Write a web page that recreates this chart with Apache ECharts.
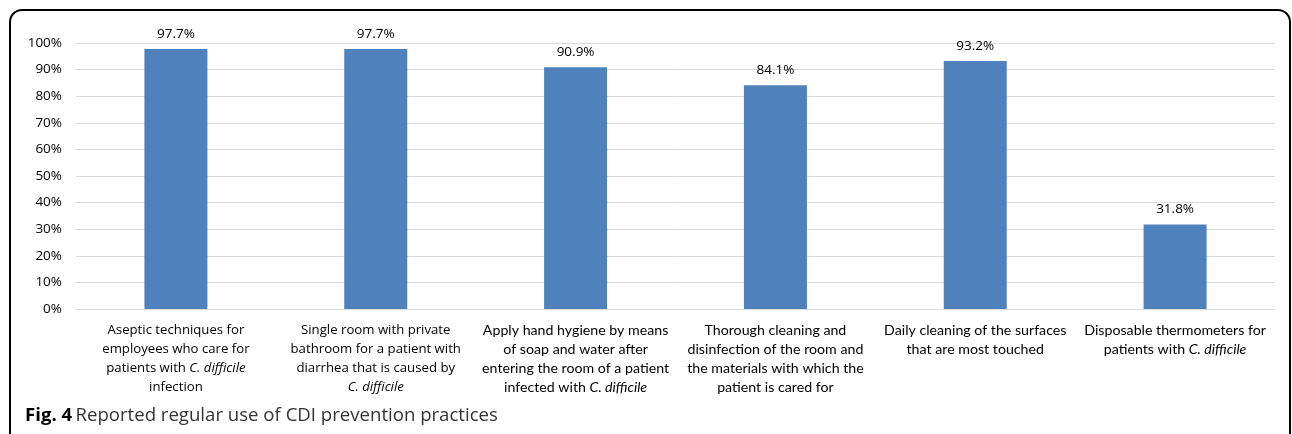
<!DOCTYPE html>
<html><head><meta charset="utf-8">
<script src="https://cdn.jsdelivr.net/npm/echarts@6/dist/echarts.min.js"></script>
<style>html,body{margin:0;padding:0;background:#fff}#c{width:1292px;height:434px}</style>
</head><body><div id="c"></div>
<script>
const categories = [
  "Aseptic techniques for\nemployees who care for\npatients with [C. difficile]\ninfection",
  "Single room with private\nbathroom for a patient with\ndiarrhea that is caused by\n[C. difficile]",
  "Apply hand hygiene by means\nof soap and water after\nentering the room of a patient\ninfected with [C. difficile]",
  "Thorough cleaning and\ndisinfection of the room and\nthe materials with which the\npatient is cared for",
  "Daily cleaning of the surfaces\nthat are most touched",
  "Disposable thermometers for\npatients with [C. difficile]"
];
const values = [97.7, 97.7, 90.9, 84.1, 93.2, 31.8];
const wideFont = [true, true, false, false, false, false];
const yTicks = [0, 10, 20, 30, 40, 50, 60, 70, 80, 90, 100];

function fmtLabel(v, idx) {
  const w = wideFont[idx] ? 'w' : 'n';
  return v.split('\n').map(line => {
    return line.split(/(\[[^\]]+\])/).filter(s => s.length).map(seg => {
      if (seg[0] === '[') return '{' + w + 'i|' + seg.slice(1, -1) + '}';
      return '{' + w + '|' + seg + '}';
    }).join('');
  }).join('\n');
}

const narrow = 'Lato, Open Sans';
const chart = echarts.init(document.getElementById('c'));
chart.setOption({
  animation: false,
  grid: { left: 76, right: 17, top: 43, bottom: 125 },
  xAxis: {
    type: 'category',
    data: categories,
    axisLine: { lineStyle: { color: '#d9d9d9', width: 1 } },
    axisTick: { show: false },
    axisLabel: {
      interval: 0, margin: 12, color: '#000',
      formatter: fmtLabel,
      rich: {
        w: { fontFamily: 'Open Sans', fontSize: 13.2, lineHeight: 19, color: '#000' },
        wi: { fontFamily: 'Open Sans', fontSize: 13.2, lineHeight: 19, fontStyle: 'italic', color: '#000' },
        n: { fontFamily: narrow, fontSize: 14.2, lineHeight: 19, color: '#000' },
        ni: { fontFamily: narrow, fontSize: 14.2, lineHeight: 19, fontStyle: 'italic', color: '#000' }
      }
    }
  },
  yAxis: {
    type: 'value', min: 0, max: 100, interval: 10,
    axisLine: { show: false }, axisTick: { show: false },
    splitLine: { lineStyle: { color: '#d9d9d9', width: 1 } },
    axisLabel: { margin: 14, color: '#000', fontFamily: 'Open Sans', fontSize: 13.5,
      formatter: v => yTicks.includes(v) ? v + '%' : '' }
  },
  series: [{
    type: 'bar', data: values, barWidth: 63,
    itemStyle: { color: '#4f81bd' },
    label: { show: true, position: 'top', distance: 8, color: '#000',
      fontFamily: 'Open Sans', fontSize: 13.5, formatter: p => p.value.toFixed(1) + '%' }
  }],
  graphic: [
    { type: 'rect', shape: { x: 10, y: 10, width: 1280, height: 450, r: [12, 12, 0, 0] },
      style: { fill: 'none', stroke: '#000', lineWidth: 2 }, silent: true },
    { type: 'text', left: 25, top: 406,
      style: { text: '{b|Fig. 4} {r|Reported regular use of CDI prevention practices}',
        rich: {
          b: { fontFamily: 'Open Sans', fontWeight: 'bold', fontSize: 18.6, fill: '#000' },
          r: { fontFamily: 'Open Sans', fontWeight: 'normal', fontSize: 18.6, fill: '#333' }
        } } }
  ]
});
</script></body></html>
